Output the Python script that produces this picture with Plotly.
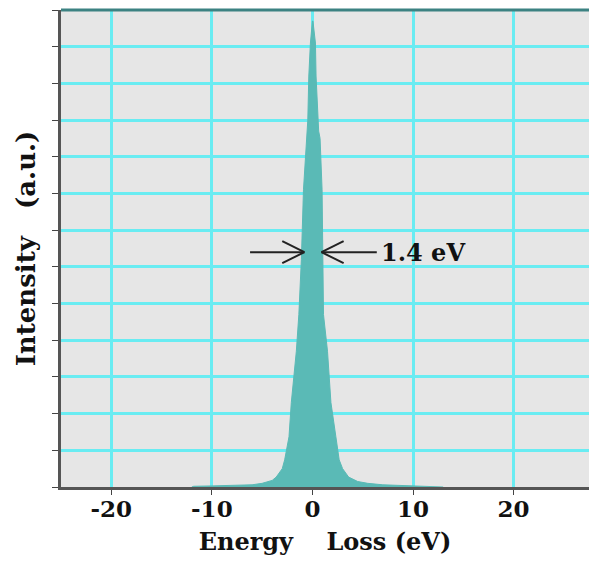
import plotly.graph_objects as go

# Energy loss (eV) and intensity (a.u.)
energy = [-12.0, -11.8, -10.0, -8.0, -6.0, -5.0, -4.0, -3.6, -3.0, -2.76, -2.33,
          -2.1, -1.77, -1.6, -1.35, -1.1, -0.89, -0.56, -0.46, -0.36, -0.2, 0.0,
          0.05, 0.3, 0.36, 0.62, 0.76, 0.96, 1.0, 1.1, 1.5, 1.6, 1.84, 2.33, 2.66,
          3.0, 3.6, 4.5, 5.5, 7.0, 10.0, 12.8, 13.0]
intensity = [0.0, 0.02, 0.03, 0.04, 0.06, 0.1, 0.18, 0.27, 0.5, 0.74, 1.37,
             2.3, 3.2, 3.7, 4.7, 6.2, 8.1, 9.7, 10.0, 11.2, 12.1, 12.7,
             12.7, 12.1, 11.2, 9.7, 9.5, 8.1, 6.5, 4.7, 3.7, 3.2, 2.3, 1.37, 0.74,
             0.5, 0.27, 0.15, 0.1, 0.06, 0.03, 0.02, 0.0]

x_ticks = [-20, -10, 0, 10, 20]
x_tick_labels = ["-20", "-10", "0", "10", "20"]
fwhm_label = "1.4\u00a0eV"
half_max = 6.4

font_family = "DejaVu Serif"
teal = "rgb(90,186,182)"
grid_cyan = "rgb(105,236,242)"

fig = go.Figure()
fig.add_trace(go.Scatter(
    x=energy, y=intensity, mode="lines", fill="tozeroy",
    line=dict(color=teal, width=1), fillcolor=teal, hoverinfo="skip",
    showlegend=False))

# FWHM arrows (open chevron heads)
def arrow(x_tail, x_head, y):
    d = 1 if x_head > x_tail else -1
    style = dict(color="#222", width=2)
    return [
        dict(type="line", xref="x", yref="y", x0=x_tail, x1=x_head, y0=y, y1=y, line=style),
        dict(type="line", xref="x", yref="y", x0=x_head - d * 2.2, x1=x_head,
             y0=y + 0.3, y1=y, line=style),
        dict(type="line", xref="x", yref="y", x0=x_head - d * 2.2, x1=x_head,
             y0=y - 0.3, y1=y, line=style),
    ]

shapes = arrow(-6.2, -0.8, half_max) + arrow(6.4, 0.9, half_max)
shapes.append(dict(type="line", xref="paper", yref="paper", x0=0, x1=1, y0=1, y1=1,
                   line=dict(color="rgb(60,130,130)", width=3)))

fig.add_annotation(x=6.6, y=half_max, xref="x", yref="y", text=fwhm_label,
                   showarrow=False, xanchor="left", yanchor="middle",
                   font=dict(family=font_family, size=24, color="#111", weight="bold"))

fig.update_layout(
    width=590, height=561,
    margin=dict(l=61, r=1, t=10, b=74),
    paper_bgcolor="white", plot_bgcolor="rgb(230,230,230)",
    shapes=shapes,
    font=dict(family=font_family, color="#111"),
    xaxis=dict(
        range=[-25, 27.5], tickvals=x_ticks, ticktext=x_tick_labels,
        showgrid=True, gridcolor=grid_cyan, gridwidth=2.5, zeroline=False,
        showline=True, linecolor="#555", linewidth=2.5,
        ticks="outside", ticklen=5, tickcolor="#444", ticklabelstandoff=-5,
        tickfont=dict(family=font_family, size=23, weight="bold"),
        title=dict(text="Energy\u00a0\u00a0\u00a0\u00a0Loss\u00a0(eV)", standoff=12,
                   font=dict(family=font_family, size=24, weight="bold")),
    ),
    yaxis=dict(
        range=[0, 13], dtick=1, showticklabels=False,
        showgrid=True, gridcolor=grid_cyan, gridwidth=2.5, zeroline=False,
        showline=True, linecolor="#555", linewidth=2.5,
        ticks="outside", ticklen=6, tickcolor="#444",
        title=dict(text="Intensity\u00a0\u00a0\u00a0(a.u.)", standoff=10,
                   font=dict(family=font_family, size=26, weight="bold")),
    ),
)

fig.write_html("out.html")
